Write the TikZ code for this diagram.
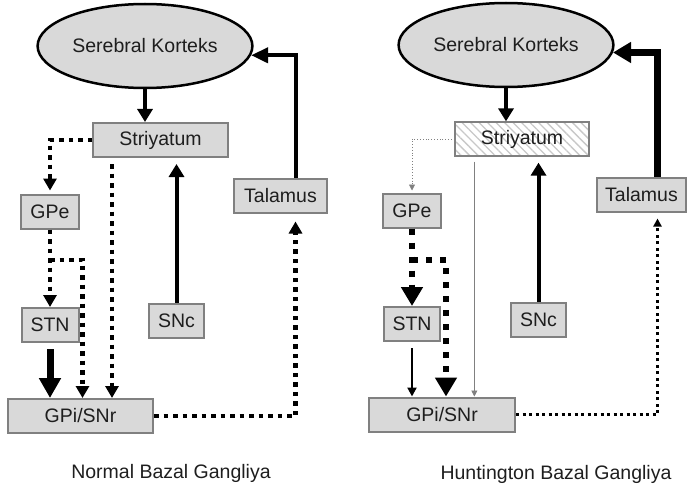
\documentclass[tikz,border=0pt]{standalone}
\usepackage{fontspec}
\setmainfont{Liberation Sans}
\usetikzlibrary{arrows.meta,shapes.geometric,patterns.meta}
\definecolor{boxfill}{RGB}{217,217,217}
\definecolor{boxline}{RGB}{128,128,128}
\definecolor{hatchline}{RGB}{200,200,200}
\definecolor{ink}{RGB}{30,30,30}

\begin{document}
\begin{tikzpicture}[
            x = 1pt, y = -1pt,
            every node/.style = {font = \fontsize{19.5}{22}\selectfont, text = ink},
            box/.style = {draw = boxline, fill = boxfill, line width = 2pt, minimum height = 34pt, inner sep = 0pt},
            hatch/.style = {box, pattern = {Lines[angle = -45, distance = 6pt, line width = 1.3pt]}, pattern color = hatchline},
            brain/.style = {ellipse, draw, fill = boxfill, line width = 2.5pt, minimum width = 202pt, minimum height = 84pt},
            bold/.style = {line width = 4pt, -{Triangle[length = 13pt, width = 15pt]}},
            heavy/.style = {line width = 7pt, -{Triangle[length = 20pt, width = 21pt]}},
            dots/.style = {line width = 4.5pt, dash pattern = on 4.5pt off 5pt, -{Triangle[length = 12pt, width = 13pt]}},
            bigdots/.style = {line width = 6pt, dash pattern = on 6pt off 8pt, -{Triangle[length = 19pt, width = 21pt]}},
            finedots/.style = {line width = 3pt, dash pattern = on 3pt off 3.5pt, -{Triangle[length = 8pt, width = 8pt]}},
            thread/.style = {draw = gray, line width = 0.8pt, -{Triangle[length = 6pt, width = 6pt]}}
        ]
        \useasboundingbox (0,0) rectangle (687,492);

        \node[brain] (K1) at (145,46) {Serebral Korteks};
        \node[box, minimum width = 135pt] (S1) at (160.5,140) {Striyatum};
        \node[box, minimum width = 93pt] (T1) at (280.5,195.5) {Talamus};
        \node[box, minimum width = 58pt] (E1) at (50,211.5) {GPe};
        \node[box, minimum width = 57pt] (N1) at (50,325) {STN};
        \node[box, minimum width = 55pt] (C1) at (176.5,320.5) {SNc};
        \node[box, minimum width = 145pt] (G1) at (80.5,416) {GPi/SNr};
        \node (L1) at (171,473) {Normal Bazal Gangliya};

        \node[brain] (K2) at (506,45) {Serebral Korteks};
        \node[hatch, minimum width = 134pt] (S2) at (522,139) {Striyatum};
        \node[box, minimum width = 89pt] (T2) at (641.5,194.5) {Talamus};
        \node[box, minimum width = 58pt] (E2) at (412,210.5) {GPe};
        \node[box, minimum width = 56pt] (N2) at (412,324) {STN};
        \node[box, minimum width = 55pt] (C2) at (538.5,319.5) {SNc};
        \node[box, minimum width = 146pt] (G2) at (442,414.5) {GPi/SNr};
        \node (L2) at (556,474) {Huntington Bazal Gangliya};

        \coordinate (D1) at ([xshift = 20pt]S1.south west);
        \coordinate (F1) at (E1.south |- 0,260);
        \coordinate (H1) at ([xshift = 3pt]N1.east);
        \draw[bold] (K1.south) -- (K1.south |- S1.north);
        \draw[bold, -{Triangle[length = 17pt, width = 15pt]}] ([xshift = 15pt]T1.north) |- (K1.-5);
        \draw[dots, shorten > = 3pt] (S1.west) -| (E1.north);
        \draw[dots, shorten < = 6pt] (D1) -- (D1 |- G1.north);
        \draw[bold, shorten > = 6pt] (C1.north) -- (C1.north |- S1.south);
        \draw[dots] (E1.south) -- (N1.north);
        \draw[dots] (F1) -| (H1 |- G1.north);
        \draw[heavy, shorten < = 6pt] (N1.south) -- (N1.south |- G1.north);
        \draw[dots, shorten > = 8pt] (G1.east) -| ([xshift = 15pt]T1.south);

        \coordinate (D2) at ([xshift = 20pt]S2.south west);
        \coordinate (F2) at (E2.south |- 0,260);
        \coordinate (H2) at ([xshift = 5pt]N2.east);
        \draw[bold] (K2.south) -- (K2.south |- S2.north);
        \draw[heavy, -{Triangle[length = 18pt, width = 20pt]}] ([xshift = 16pt]T2.north) |- (K2.-4);
        \draw[thread, dotted, shorten > = 2pt] (S2.west) -| (E2.north);
        \draw[thread, shorten < = 5pt] (D2) -- (D2 |- G2.north);
        \draw[bold, shorten > = 6pt] (C2.north) -- (C2.north |- S2.south);
        \draw[bigdots] (E2.south) -- (N2.north);
        \draw[bigdots] (F2) -| (H2 |- G2.north);
        \draw[line width = 2.5pt, -{Triangle[length = 9pt, width = 9pt]}, shorten < = 6pt] (N2.south) -- (N2.south |- G2.north);
        \draw[finedots, shorten > = 6pt] (G2.east) -| ([xshift = 16pt]T2.south);
    \end{tikzpicture}
\end{document}
